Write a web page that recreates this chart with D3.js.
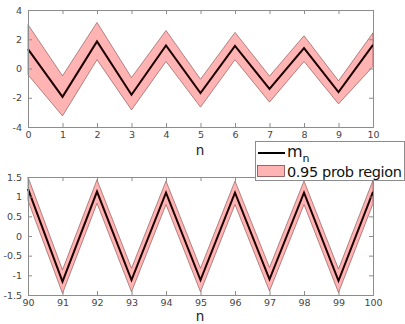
<!DOCTYPE html>
<html>
<head>
<meta charset="utf-8">
<script src="https://cdn.jsdelivr.net/npm/d3@7"></script>
<style>
  body { margin: 0; background: #fff; }
  text { font-family: "DejaVu Sans", sans-serif; }
</style>
</head>
<body>
<div id="chart"></div>
<script>
// top panel: n = 0..10
const nTop = [0, 1, 2, 3, 4, 5, 6, 7, 8, 9, 10];
const mTop = [1.33, -1.94, 1.85, -1.8, 1.58, -1.68, 1.55, -1.4, 1.4, -1.62, 1.62];
const upTop = [3.0, -0.5, 3.15, -0.62, 2.6, -0.73, 2.47, -0.52, 2.24, -0.84, 2.44];
const loTop = [-0.43, -3.24, 0.6, -2.83, 0.48, -2.64, 0.6, -2.3, 0.48, -2.42, 0.14];
const yTicksTop = [-4, -2, 0, 2, 4];

// bottom panel: n = 90..100
const nBot = [90, 91, 92, 93, 94, 95, 96, 97, 98, 99, 100];
const mBot = [1.2, -1.16, 1.13, -1.12, 1.1, -1.12, 1.1, -1.1, 1.1, -1.14, 1.12];
const upBot = [1.5, -0.86, 1.43, -0.82, 1.4, -0.82, 1.4, -0.8, 1.4, -0.84, 1.42];
const loBot = [0.9, -1.46, 0.83, -1.42, 0.8, -1.42, 0.8, -1.4, 0.8, -1.44, 0.82];
const yTicksBot = [-1.5, -1, -0.5, 0, 0.5, 1, 1.5];

const legendLabels = ["m", "0.95 prob region"];

const W = 405, H = 324;
const svg = d3.select("#chart").append("svg")
    .attr("width", W).attr("height", H);

function panel(n, m, up, lo, yDomain, yTicks, top, bottom, labelY) {
  const x = d3.scaleLinear().domain([n[0], n[n.length - 1]]).range([28, 373]);
  const y = d3.scaleLinear().domain(yDomain).range([bottom, top]);
  const g = svg.append("g");

  // band polygon
  const band = n.map((v, i) => [x(v), y(up[i])])
    .concat(n.map((v, i) => [x(v), y(lo[i])]).reverse());
  g.append("path")
    .attr("d", "M" + band.join("L") + "Z")
    .attr("fill", "#ffb3b3")
    .attr("stroke", "#7a4a4a")
    .attr("stroke-width", 0.6);

  g.append("path")
    .datum(m)
    .attr("d", d3.line().x((d, i) => x(n[i])).y(d => y(d)))
    .attr("fill", "none")
    .attr("stroke", "#1a0000")
    .attr("stroke-width", 2);

  // axes with inward ticks, box on
  const fmt = d => String(d);
  const xb = g.append("g").attr("transform", `translate(0,${bottom})`)
    .call(d3.axisBottom(x).tickValues(n).tickSize(-4).tickPadding(4).tickFormat(fmt));
  const xt = g.append("g").attr("transform", `translate(0,${top})`)
    .call(d3.axisTop(x).tickValues(n).tickSize(-4).tickFormat(""));
  const yl = g.append("g").attr("transform", `translate(28,0)`)
    .call(d3.axisLeft(y).tickValues(yTicks).tickSize(-4).tickPadding(6).tickFormat(fmt));
  const yr = g.append("g").attr("transform", `translate(373,0)`)
    .call(d3.axisRight(y).tickValues(yTicks).tickSize(-4).tickFormat(""));
  [xb, xt, yl, yr].forEach(a => {
    a.selectAll("path, line").attr("stroke", "#8c8c8c");
    a.selectAll("text").attr("fill", "#444").style("font-size", "9.5px")
      .style("font-family", "DejaVu Sans, sans-serif");
  });

  g.append("text")
    .attr("x", 200).attr("y", labelY)
    .attr("text-anchor", "middle")
    .attr("fill", "#222")
    .style("font-size", "13.5px")
    .text("n");
}

panel(nTop, mTop, upTop, loTop, [-4, 4], yTicksTop, 10, 127, 155);
panel(nBot, mBot, upBot, loBot, [-1.5, 1.5], yTicksBot, 177, 295, 321);

// legend
const lg = svg.append("g");
lg.append("rect")
  .attr("x", 255.5).attr("y", 141.5).attr("width", 149).attr("height", 39)
  .attr("fill", "#fff").attr("stroke", "#8c8c8c");
lg.append("line")
  .attr("x1", 258).attr("x2", 285).attr("y1", 153).attr("y2", 153)
  .attr("stroke", "#000").attr("stroke-width", 2);
const t1 = lg.append("text").attr("x", 287).attr("y", 157)
  .attr("fill", "#111").style("font-size", "16px");
t1.append("tspan").text(legendLabels[0]);
t1.append("tspan").attr("dy", 5).style("font-size", "11px").text("n");
lg.append("rect")
  .attr("x", 257.5).attr("y", 165.5).attr("width", 27).attr("height", 11)
  .attr("fill", "#ffb3b3").attr("stroke", "#7a4a4a").attr("stroke-width", 0.8);
lg.append("text").attr("x", 287).attr("y", 177)
  .attr("fill", "#111").style("font-size", "14.5px")
  .attr("textLength", 115)
  .text(legendLabels[1]);
</script>
</body>
</html>
